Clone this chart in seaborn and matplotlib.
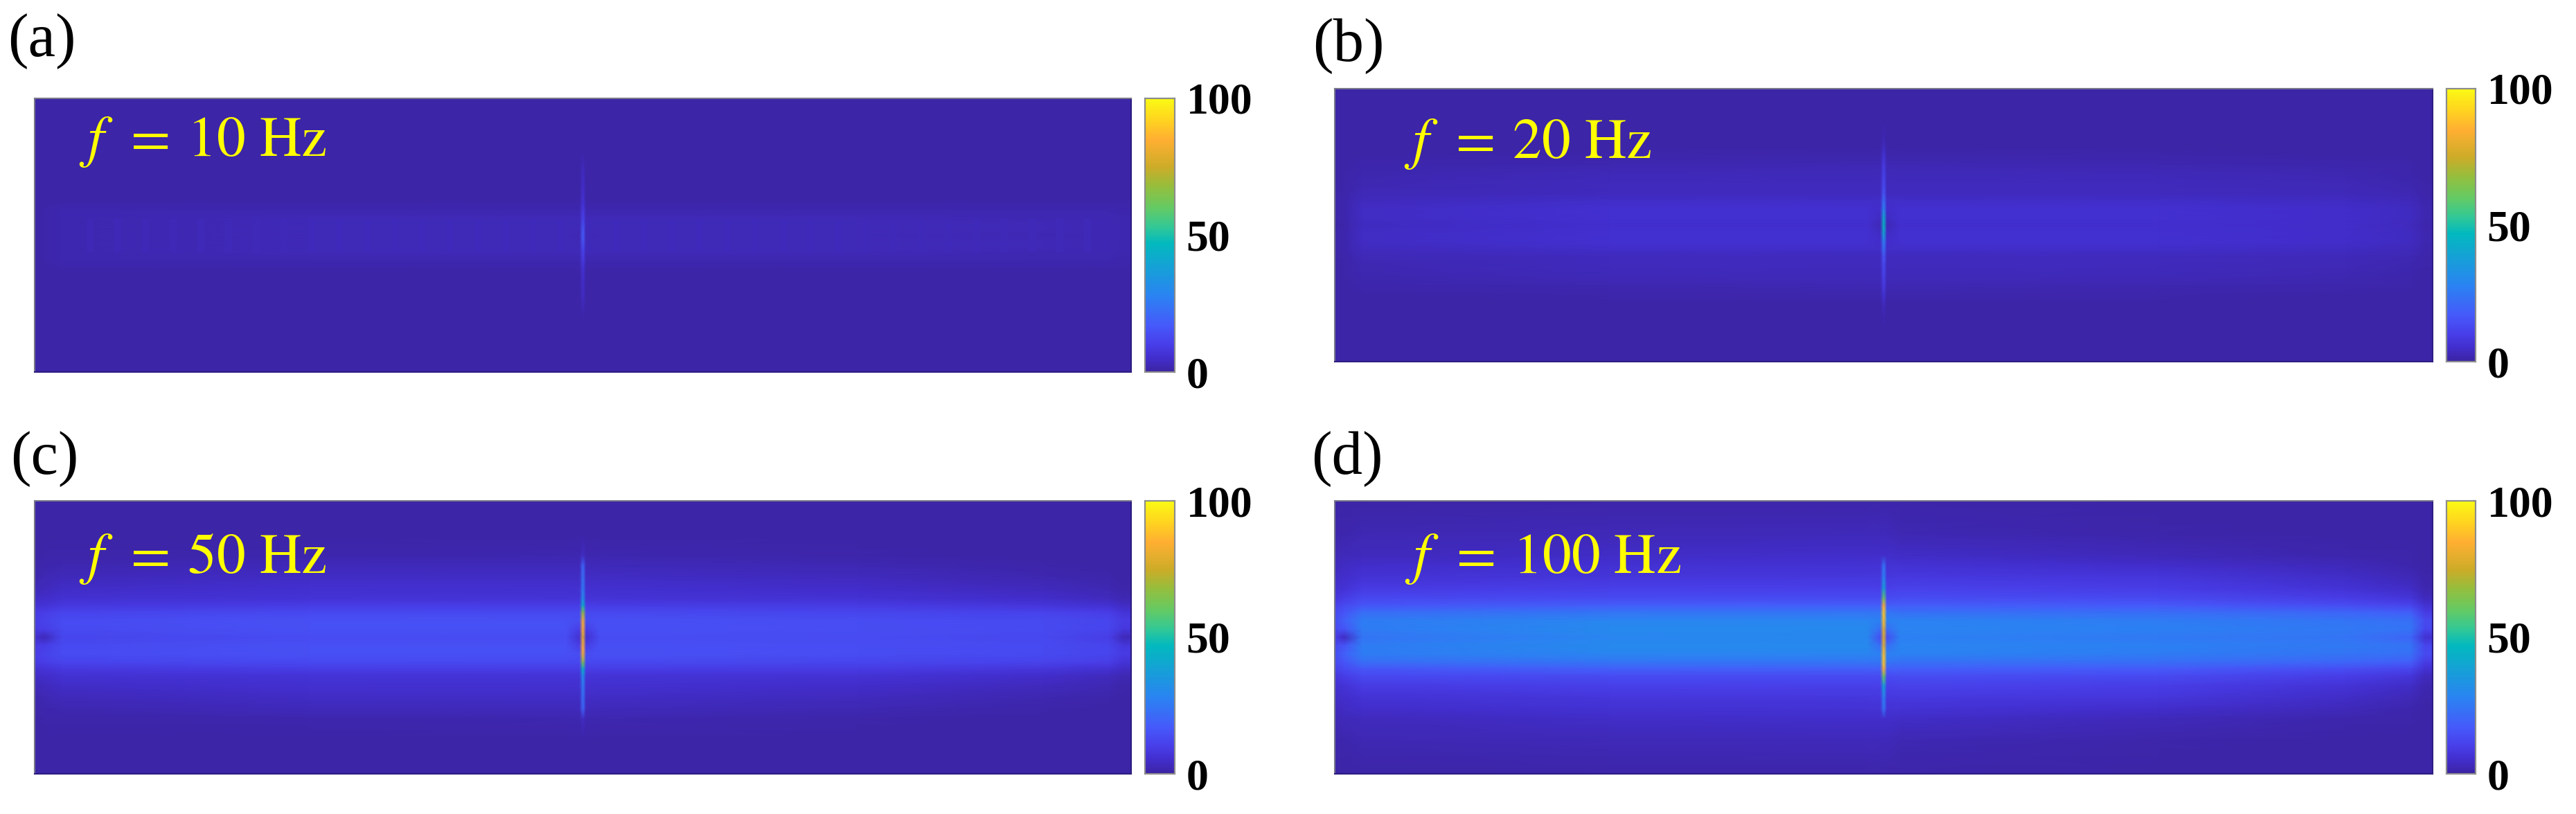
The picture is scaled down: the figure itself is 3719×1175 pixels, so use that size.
import numpy as np
import pandas as pd
import matplotlib
matplotlib.use("Agg")
import matplotlib.pyplot as plt
from matplotlib.colors import LinearSegmentedColormap
import seaborn as sns

W, H = 3719, 1175

panel_names = ["(a)", "(b)", "(c)", "(d)"]
freq_labels = ["10", "20", "50", "100"]
cbar_ticks = [0, 50, 100]

# colorbar colours read bottom to top (value, rgb)
bar_levels = [0, 5, 10, 17, 28, 38, 47, 53, 60, 68, 75, 85, 93, 100]
bar_rgb = [(60, 36, 163), (66, 46, 205), (72, 62, 232), (70, 90, 250), (42, 132, 242),
           (22, 160, 215), (2, 185, 190), (50, 200, 150), (100, 202, 100), (150, 190, 60),
           (205, 172, 40), (255, 175, 50), (255, 215, 30), (250, 250, 20)]

# distance from the centre line in pixels, one per table row
row_dist = [0, 12, 24, 36, 46, 56, 70, 88, 104, 118, 150, 197]

# table columns left to right:
# edge, notch, near left, left, mid left, by spike, spike, mid right, right, far right, near right, edge
field_a = [
    [.6, .9, 1.8, 2.4, 2.4, 2.0, 18, 2.4, 2.4, 2.3, 2.1, 1.6],
    [.6, 1.0, 1.9, 2.5, 2.5, 2.4, 15, 2.5, 2.5, 2.4, 2.2, 1.7],
    [.6, 1.0, 1.9, 2.4, 2.4, 2.4, 11, 2.4, 2.4, 2.3, 2.1, 1.7],
    [.6, .9, 1.6, 1.9, 1.9, 1.9, 9, 1.9, 1.9, 1.8, 1.7, 1.4],
    [.6, .6, .9, 1.1, 1.1, 1.1, 7, 1.1, 1.1, 1.0, .9, .8],
    [.6, .6, .6, .6, .6, .65, 6, .6, .6, .6, .6, .6],
    [.6, .6, .6, .6, .6, .6, 5, .6, .6, .6, .6, .6],
    [.6, .6, .6, .6, .6, .6, 4, .6, .6, .6, .6, .6],
    [.6, .6, .6, .6, .6, .6, 2.5, .6, .6, .6, .6, .6],
    [.6, .6, .6, .6, .6, .6, .8, .6, .6, .6, .6, .6],
    [.6, .6, .6, .6, .6, .6, .6, .6, .6, .6, .6, .6],
    [.6, .6, .6, .6, .6, .6, .6, .6, .6, .6, .6, .6],
]
field_b = [
    [.7, .9, 3.6, 5.3, 5.3, 2.5, 45, 5.3, 5.3, 4.9, 3.2, 1.2],
    [.9, 1.4, 4, 5.6, 5.6, 4, 40, 5.6, 5.6, 5, 3.6, 1.6],
    [.9, 1.5, 4, 5.5, 5.6, 5, 28, 5.6, 5.5, 4.8, 3.6, 1.6],
    [.9, 1.3, 3.4, 4.4, 4.6, 4.6, 22, 4.6, 4.4, 3.8, 3, 1.4],
    [.8, 1, 2.6, 3.4, 3.5, 3.5, 16, 3.5, 3.4, 3, 2.2, 1],
    [.7, .9, 2.2, 3.2, 3.3, 3.3, 14, 3.3, 3.2, 2.7, 1.8, .8],
    [.7, .8, 1.8, 2.8, 3, 3, 12, 3, 2.8, 2.2, 1.4, .7],
    [.6, .7, 1.2, 1.8, 2, 2, 9, 2, 1.8, 1.2, .8, .6],
    [.6, .6, .7, .8, .9, .9, 6, .9, .8, .7, .6, .6],
    [.6, .6, .6, .7, .7, .7, 3, .7, .7, .6, .6, .5],
    [.5, .5, .5, .5, .5, .5, .6, .5, .5, .5, .5, .5],
    [.5, .5, .5, .5, .5, .5, .5, .5, .5, .5, .5, .5],
]
field_c = [
    [6, 3, 12, 13.5, 13.5, 6, 80, 13.5, 13.5, 12.5, 10, 3],
    [9, 10, 13, 14.5, 14.5, 10, 85, 14.5, 14, 13, 12, 8],
    [10, 11, 13.5, 14.5, 14.5, 14, 84, 14.5, 14, 13, 12, 9],
    [9, 10, 11.5, 12.5, 12.5, 12.5, 66, 12.5, 12, 11, 10, 7],
    [6.5, 7, 8.5, 9.5, 9.5, 9.5, 45, 9.5, 9, 7.5, 6, 4],
    [4.5, 5, 6, 7, 7, 7, 32, 7, 6.5, 5, 3.5, 2],
    [3, 3.5, 4.5, 5.5, 5.5, 5.5, 26, 5.5, 5, 3.2, 2, 1],
    [1.5, 2, 3, 4, 4.2, 4.2, 23, 4.2, 3.5, 1.8, 1, .7],
    [1, 1.2, 1.8, 2.8, 3, 3, 20, 3, 2, 1, .7, .6],
    [.7, .8, 1, 1.5, 1.8, 1.8, 4, 1.8, 1, .7, .6, .6],
    [.6, .6, .6, .7, .7, .7, .7, .7, .6, .6, .6, .6],
    [.6, .6, .6, .6, .6, .6, .6, .6, .6, .6, .6, .6],
]
field_d = [
    [10, 4, 24, 28.5, 29, 14, 78, 27, 25, 24, 20, 6],
    [13, 16, 26, 30, 30, 22, 80, 28.5, 27, 25, 24, 12],
    [14, 19, 26, 28.5, 28.5, 27, 88, 27.5, 26, 24, 23, 13],
    [13, 16, 22, 24, 24, 24, 90, 23, 22, 20, 18, 9],
    [11, 13, 16, 18, 18, 18, 85, 18, 17, 14, 12, 6],
    [8.5, 10, 12.5, 13.5, 13.5, 13.5, 62, 14, 13, 10, 7.5, 3.5],
    [6, 7, 9, 10.5, 10.5, 10.5, 40, 11, 10, 7, 4.5, 1.8],
    [4.5, 5, 6.5, 7.5, 8, 8, 28, 8.5, 7.5, 4.5, 2.5, 1],
    [3.5, 4, 5, 6, 6.5, 6.5, 24, 6.5, 5, 2.8, 1.3, .7],
    [2.5, 3, 3.5, 4.5, 5, 5, 5, 4.5, 2.8, 1.5, .8, .6],
    [1.2, 1.5, 2, 2.5, 3, 3, 3, 2.2, 1.1, .7, .6, .5],
    [.6, .7, .7, .8, .9, .9, .9, .8, .6, .5, .5, .5],
]
fields = [field_a, field_b, field_c, field_d]

# faint dashes along the middle of the band in (a)
ripple_a = [0, 0, 0, 3.5, 3.5, 0, 0, 0]

# where the table columns sit across the panel (per mille of width)
col_pos = [0, 9, 25, 250, 485, 497, 500, 503, 515, 750, 920, 980, 993, 1000]
col_ids = [0, 1, 2, 3, 4, 5, 6, 5, 7, 8, 9, 10, 11, 11]

# pixel boxes: left, top, right, bottom
panel_boxes = [(50, 142, 1633, 537), (1927, 128, 3512, 522), (50, 723, 1633, 1117), (1927, 723, 3512, 1117)]
bar_boxes = [(1653, 142, 1696, 537), (3532, 128, 3574, 522), (1653, 723, 1696, 1117), (3532, 723, 3574, 1117)]
name_xy = [(11, 60), (1895, 67), (15, 663), (1893, 663)]
freq_xy = [(114, 225), (2027, 228), (114, 827), (2028, 827)]

sns.set_theme(style="white")
plt.rcParams["font.family"] = ["Liberation Serif", "DejaVu Serif"]
plt.rcParams["mathtext.fontset"] = "stix"

parula = LinearSegmentedColormap.from_list(
    "parula_like", [(v / 100, tuple(c / 255 for c in rgb)) for v, rgb in zip(bar_levels, bar_rgb)], N=256)


def add_axes(fig, box):
    l, t, r, b = box
    return fig.add_axes([l / W, 1 - b / H, (r - l) / W, (b - t) / H])


def draw_field(ax, cax, field):
    half = np.array(field, dtype=float)[:, col_ids]
    grid = np.vstack([half[:0:-1], half])
    sns.heatmap(pd.DataFrame(grid), ax=ax, cbar_ax=cax, cmap=parula, vmin=0, vmax=100,
                xticklabels=False, yticklabels=False, shading="gouraud", rasterized=True)
    # stations are not evenly spaced, the mesh keeps whole numbers so per mille and pixels are used
    dist = np.array(row_dist)
    ys = np.r_[-dist[:0:-1], dist]
    coords = ax.collections[0].get_coordinates()
    coords[..., 0] = np.array(col_pos)[None, :]
    coords[..., 1] = ys[:, None]
    ax.set_xlim(0, 1000)
    ax.set_ylim(dist[-1], -dist[-1])


fig = plt.figure(figsize=(W / 100, H / 100), dpi=100)

for i in range(4):
    ax = add_axes(fig, panel_boxes[i])
    cax = add_axes(fig, bar_boxes[i])
    draw_field(ax, cax, fields[i])
    ax.set_xlabel("")
    ax.set_ylabel("")
    for side, col in [("top", "#77778a"), ("left", "#77778a"), ("bottom", "#2c1d80"), ("right", "#2c1d80")]:
        ax.spines[side].set_visible(True)
        ax.spines[side].set_color(col)
        ax.spines[side].set_linewidth(1.5)

    cax.set_yticks(cbar_ticks)
    cax.set_yticklabels([str(t) for t in cbar_ticks], fontsize=46, fontweight="bold", color="black")
    cax.tick_params(axis="y", length=3, width=1.5, direction="in", color="#33557a", pad=12)
    for side in cax.spines:
        cax.spines[side].set_visible(True)
        cax.spines[side].set_color("#8c8c8c")
        cax.spines[side].set_linewidth(1.5)

    nx, ny = name_xy[i]
    fig.text(nx / W, 1 - ny / H, panel_names[i], fontsize=64, color="black", ha="left", va="center")
    fx, fy = freq_xy[i]
    fig.text(fx / W, 1 - fy / H, r"$f\:\:=\:" + freq_labels[i] + r"\ \mathrm{Hz}$", fontsize=60,
             color="#ffff00", ha="left", va="baseline")

# dashes of (a) on a see-through strip over the band
strip = add_axes(fig, (110, 316, 1575, 364))
dashes = np.resize(ripple_a, 293)[None, :]
sns.heatmap(pd.DataFrame(dashes), ax=strip, mask=dashes == 0, cmap=parula, vmin=0, vmax=100,
            cbar=False, alpha=.5, xticklabels=False, yticklabels=False)
strip.axis("off")

fig.savefig("out.png", dpi=100, facecolor="white")
